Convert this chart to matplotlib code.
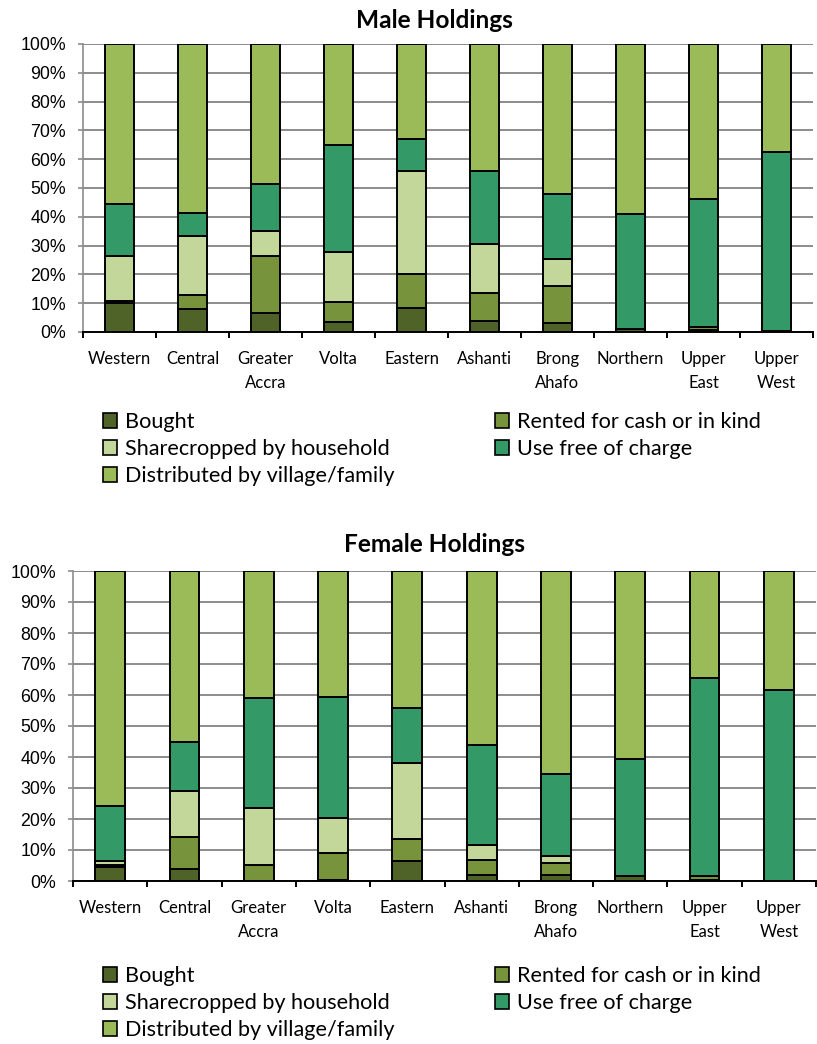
import matplotlib
matplotlib.use('Agg')
import matplotlib.pyplot as plt
from matplotlib.patches import Patch
import numpy as np

# -- Regions (x axis categories)
regions = ['Western', 'Central', 'Greater\nAccra', 'Volta', 'Eastern', 'Ashanti',
           'Brong\nAhafo', 'Northern', 'Upper\nEast', 'Upper\nWest']

# -- Tenure types (stack order, bottom to top)
tenure = ['Bought', 'Rented for cash or in kind', 'Sharecropped by household',
          'Use free of charge', 'Distributed by village/family']
colors = ['#4F6228', '#77933C', '#C4D79B', '#339966', '#9BBB59']

# -- Male holdings, % of holdings
male_bought = [10.2, 8.0, 6.6, 3.6, 8.5, 3.9, 3.0, 1.0, 0.6, 0.2]
male_rented = [0.5, 5.0, 19.8, 6.8, 11.8, 9.7, 13.1, 0.0, 1.2, 0.0]
male_share = [15.7, 20.4, 8.6, 17.4, 35.5, 16.8, 9.3, 0.0, 0.0, 0.0]
male_free = [18.1, 8.0, 16.3, 37.2, 11.3, 25.4, 22.4, 40.1, 44.3, 62.2]
male_distr = [55.5, 58.6, 48.7, 35.0, 32.9, 44.2, 52.2, 58.9, 53.9, 37.6]

# -- Female holdings, % of holdings
female_bought = [4.5, 3.8, 0.0, 0.4, 6.4, 2.0, 1.8, 1.5, 0.3, 0.0]
female_rented = [0.6, 10.3, 5.2, 8.7, 7.3, 4.7, 3.9, 0.0, 1.2, 0.0]
female_share = [1.3, 15.0, 18.4, 11.3, 24.4, 4.8, 2.4, 0.0, 0.0, 0.0]
female_free = [17.8, 15.8, 35.5, 39.1, 17.7, 32.4, 26.5, 37.8, 63.9, 61.6]
female_distr = [75.8, 55.1, 40.9, 40.5, 44.2, 56.1, 65.4, 60.7, 34.6, 38.4]

male = [male_bought, male_rented, male_share, male_free, male_distr]
female = [female_bought, female_rented, female_share, female_free, female_distr]

label_font = ['Lato', 'DejaVu Sans']
tick_font = ['Liberation Sans', 'DejaVu Sans']
grid_col = '#8C8C8C'

W, H = 817, 1044
fig = plt.figure(figsize=(W / 100, H / 100), dpi=100)


def px_axes(l, t, r, b):
    return fig.add_axes([l / W, 1 - b / H, (r - l) / W, (b - t) / H])


def stacked(ax, series):
    x = np.arange(len(regions))
    bottom = np.zeros(len(regions))
    for vals, col in zip(series, colors):
        ax.bar(x, vals, width=0.4, bottom=bottom, color=col, edgecolor='black',
               linewidth=1.4, zorder=3)
        bottom += np.array(vals)
    ax.set_xlim(-0.5, len(regions) - 0.5)
    ax.set_ylim(0, 100)
    ax.set_yticks(np.arange(0, 101, 10))
    ax.set_yticklabels(['%d%%' % v for v in range(0, 101, 10)],
                       family=tick_font, fontsize=12.8)
    ax.yaxis.grid(True, color=grid_col, linewidth=1.4, zorder=0)
    ax.tick_params(axis='y', length=3.6, width=1.2, color=grid_col, pad=8.5)
    # -- boundaries as major ticks, names as minor ticks
    ax.set_xticks(np.arange(-0.5, len(regions), 1.0))
    ax.set_xticklabels([])
    ax.set_xticks(x, minor=True)
    ax.set_xticklabels(regions, minor=True, family=label_font, fontsize=12,
                       linespacing=1.55)
    ax.tick_params(axis='x', which='major', length=4, width=1.4, color='black',
                   direction='out')
    ax.tick_params(axis='x', which='minor', length=0, pad=14)
    for s in ['top', 'right']:
        ax.spines[s].set_visible(False)
    ax.spines['left'].set_color(grid_col)
    ax.spines['left'].set_linewidth(1.2)
    ax.spines['bottom'].set_color('black')
    ax.spines['bottom'].set_linewidth(1.4)
    ax.spines['bottom'].set_zorder(4)


def legends(y_top):
    handles = [Patch(facecolor=c, edgecolor='black', linewidth=1.2) for c in colors]
    kw = dict(frameon=False, loc='upper left', borderpad=0, borderaxespad=0,
              handlelength=0.66, handleheight=0.66, handletextpad=0.37,
              labelspacing=0.32, prop={'family': label_font, 'size': 15.6})
    fig.legend([handles[0], handles[2], handles[4]],
               [tenure[0], tenure[2], tenure[4]],
               bbox_to_anchor=(103 / W, 1 - y_top / H), **kw)
    fig.legend([handles[1], handles[3]], [tenure[1], tenure[3]],
               bbox_to_anchor=(495 / W, 1 - y_top / H), **kw)


ax_m = px_axes(83, 44, 813, 332)
stacked(ax_m, male)
fig.text(434 / W, 1 - 21 / H, 'Male Holdings', ha='center', va='center',
         family=label_font, fontsize=17.6, fontweight='bold')
legends(412)

ax_f = px_axes(73, 571, 816, 881)
stacked(ax_f, female)
fig.text(434 / W, 1 - 545 / H, 'Female Holdings', ha='center', va='center',
         family=label_font, fontsize=17.6, fontweight='bold')
legends(966)

fig.savefig('out.png', dpi=100)
